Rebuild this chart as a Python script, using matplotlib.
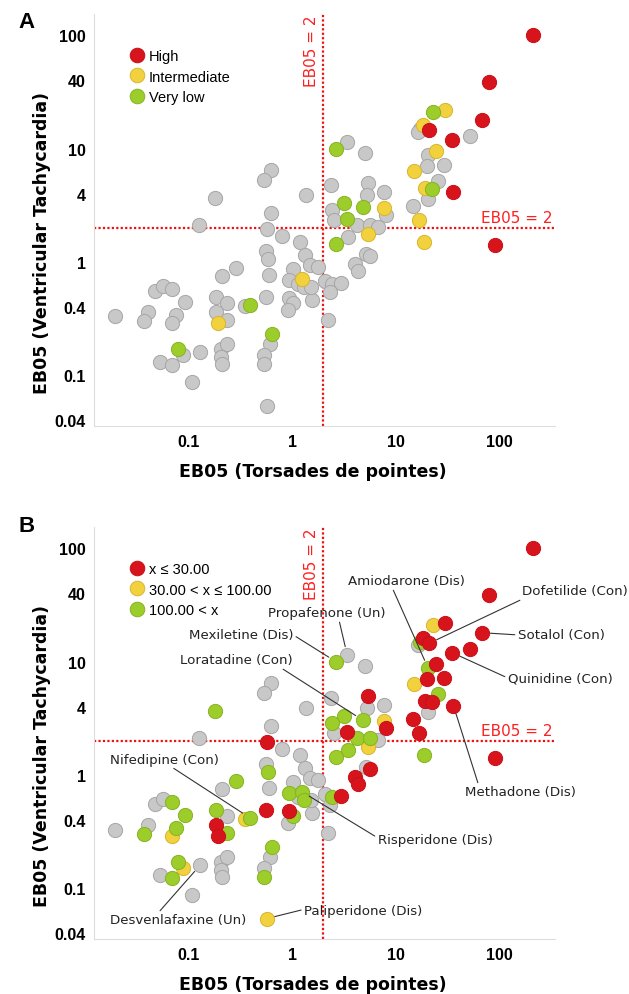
import numpy as np
import matplotlib
matplotlib.use("Agg")
import matplotlib.pyplot as plt
from matplotlib.lines import Line2D

# EB05 values per drug: Torsades de pointes (x) vs Ventricular Tachycardia (y)
tdp = [210, 79, 68, 52, 35, 30, 23, 17, 18.5, 16.5, 21, 24.5, 20.5, 20, 29, 15, 25.6, 19, 22.4, 20.5,
       36, 14.7, 16.8, 18.7, 91, 5.1, 3.4, 2.65, 2.4, 5.4, 5.3, 7.7, 1.36, 3.2, 4.8, 7.7, 2.45, 2.55, 3.4, 8.1,
       4.2, 5.6, 6.7, 5.4, 3.5, 2.65, 5.2, 5.6, 4.05, 4.3, 2.1, 2.45, 2.95, 2.3, 2.2, 1.55, 0.63, 0.54, 0.18, 0.63,
       0.127, 0.57, 0.8, 1.2, 0.56, 0.59, 1.33, 1.5, 1.8, 0.29, 0.21, 0.6, 1.02, 0.94, 1.25, 1.14, 1.3, 1.52, 0.048, 0.057,
       0.07, 0.093, 0.185, 0.235, 0.56, 0.94, 1.02, 0.92, 0.39, 0.35, 0.041, 0.037, 0.076, 0.07, 0.0196, 0.185, 0.195, 0.235, 0.64, 0.61,
       0.54, 0.54, 0.08, 0.089, 0.053, 0.07, 0.13, 0.207, 0.236, 0.207, 0.21, 0.109, 0.57]
vt = [100, 39, 18, 13, 12, 22, 21, 15, 16, 14, 14.5, 9.5, 8.8, 7, 7.2, 6.4, 5.2, 4.5, 4.4, 3.6,
      4.1, 3.1, 2.35, 1.5, 1.4, 9.2, 11.5, 10, 4.8, 5.0, 3.9, 4.15, 3.9, 3.3, 3.05, 3.0, 2.9, 2.35, 2.4, 2.6,
      2.1, 2.1, 2.05, 1.75, 1.65, 1.45, 1.18, 1.12, 0.96, 0.83, 0.68, 0.64, 0.65, 0.54, 0.31, 0.46, 6.5, 5.3, 3.7, 2.7,
      2.1, 1.95, 1.7, 1.5, 1.25, 1.06, 1.15, 0.94, 0.9, 0.88, 0.75, 0.77, 0.87, 0.69, 0.71, 0.64, 0.6, 0.6, 0.55, 0.61,
      0.58, 0.44, 0.49, 0.43, 0.49, 0.48, 0.43, 0.38, 0.42, 0.41, 0.36, 0.30, 0.34, 0.29, 0.33, 0.36, 0.29, 0.31, 0.23, 0.19,
      0.15, 0.126, 0.17, 0.15, 0.13, 0.123, 0.16, 0.17, 0.19, 0.145, 0.126, 0.087, 0.054]

# category per drug, 10 per chunk: R/Y/G coloured, N = grey
# panel A: risk class
cat_a = "".join(["RRRNRYGNYN", "RYNNNYNYGN", "RNYYRNNGNN", "NNNGGYNNGN", "NNNYNGNNNN",
                 "NNNNNNNNNN", "NNNNNNNNNN", "NNNNYNNNNN", "NNNNNNNNGN", "NNNNNNYNGN",
                 "NNGNNNNNNN", "NNN"])
# panel B: threshold class
cat_b = "".join(["RRRRRRYGRN", "RRGRRYGRRN", "RRRGRNNGNR", "NNNGGYGNRR", "GGNYGGNRRR",
                 "NGRNNNNNGN", "NRNNNGNNNG", "NNNGGNGNNN", "GGGNRRGNGY", "NGGYNRRGGN",
                 "NGGYNGNNNN", "NNY"])

labels_a = {"R": "High", "Y": "Intermediate", "G": "Very low"}
labels_b = {"R": "x \u2264 30.00", "Y": "30.00 < x \u2264 100.00", "G": "100.00 < x"}

# annotated drugs in panel B: (label, point index, label x, label y, relpos)
notes = [
    ("Amiodarone (Dis)", 12, 12.6, 51.5, (0.38, 0.0)),
    ("Dofetilide (Con)", 10, 536, 42, (0.06, 0.1)),
    ("Sotalol (Con)", 2, 393, 17.2, (0.0, 0.5)),
    ("Quinidine (Con)", 4, 384, 7.18, (0.0, 0.5)),
    ("Methadone (Dis)", 20, 161, 0.708, (0.12, 1.0)),
    ("Risperidone (Dis)", 74, 23.9, 0.272, (0.0, 0.6)),
    ("Paliperidone (Dis)", 112, 4.84, 0.0643, (0.0, 0.55)),
    ("Desvenlafaxine (Un)", 106, 0.0796, 0.0525, (0.35, 1.0)),
    ("Nifedipine (Con)", 88, 0.0583, 1.38, (0.55, 0.0)),
    ("Loratadine (Con)", 34, 0.288, 10.35, (0.88, 0.0)),
    ("Mexiletine (Dis)", 27, 0.322, 17.2, (1.0, 0.5)),
    ("Propafenone (Un)", 26, 2.18, 26.9, (0.6, 0.0)),
]

face = {"N": "#c8c8c8", "R": "#d7131b", "Y": "#f2d13f", "G": "#9ccd2a"}
edge = {"N": "#a6a6a6", "R": "#c8101a", "Y": "#d9b52e", "G": "#86b322"}

tdp = np.array(tdp)
vt = np.array(vt)

plt.rcParams['font.family'] = ['DejaVu Sans']
fig = plt.figure(figsize=(6.29, 9.95), dpi=100)
ax_a = fig.add_axes([0.1494, 0.5709, 0.733, 0.414])
ax_b = fig.add_axes([0.1494, 0.0553, 0.733, 0.414])


def draw_panel(ax, cats, labels):
    cats = np.array(list(cats))
    for c in ["N", "Y", "G", "R"]:
        m = cats == c
        ax.scatter(tdp[m], vt[m], s=105, c=face[c], edgecolors=edge[c], linewidths=0.7, zorder=3)
    ax.set_xscale("log")
    ax.set_yscale("log")
    ax.set_xlim(0.0123, 344)
    ax.set_ylim(0.0357, 154)
    ax.set_xticks([0.1, 1, 10, 100])
    ax.set_xticklabels(["0.1", "1", "10", "100"])
    ax.set_yticks([0.04, 0.1, 0.4, 1, 4, 10, 40, 100])
    ax.set_yticklabels(["0.04", "0.1", "0.4", "1", "4", "10", "40", "100"])
    ax.minorticks_off()
    ax.tick_params(length=0, pad=6)
    for lab in ax.get_xticklabels() + ax.get_yticklabels():
        lab.set_fontfamily("Liberation Sans")
        lab.set_fontweight("bold")
        lab.set_fontsize(11.5)
    for s in ["top", "right"]:
        ax.spines[s].set_visible(False)
    for s in ["left", "bottom"]:
        ax.spines[s].set_color("#dddddd")
    ax.axvline(2, color="#ee1111", ls=(0, (1, 1)), lw=1.6, zorder=2)
    ax.axhline(2, color="#ee1111", ls=(0, (1, 1)), lw=1.6, zorder=2)
    ax.text(1.83, 1.0, "EB05 = 2", transform=ax.get_xaxis_transform(), rotation=90,
            ha="right", va="top", color="#ff2020", fontsize=11)
    ax.text(0.995, 2.12, "EB05 = 2", transform=ax.get_yaxis_transform(),
            ha="right", va="bottom", color="#ff2020", fontsize=11)
    ax.text(0.4745, -0.109, "EB05 (Torsades de pointes)", transform=ax.transAxes,
            ha="center", va="center", fontsize=12.5, fontweight="bold")
    ax.text(-0.113, 0.447, "EB05 (Ventricular Tachycardia)", transform=ax.transAxes,
            rotation=90, ha="center", va="center", fontsize=12.5, fontweight="bold")
    handles = [Line2D([], [], ls="", marker="o", markersize=10.5, markerfacecolor=face[c],
                      markeredgecolor=edge[c], markeredgewidth=0.7) for c in ["R", "Y", "G"]]
    ax.legend(handles, [labels[c] for c in ["R", "Y", "G"]], loc="upper left",
              bbox_to_anchor=(0.062, 0.93), frameon=False, handletextpad=0.22,
              labelspacing=0.47, borderaxespad=0, handlelength=1.2,
              prop={"family": "Liberation Sans", "size": 10.5})


draw_panel(ax_a, cat_a, labels_a)
draw_panel(ax_b, cat_b, labels_b)

for text, i, lx, ly, rp in notes:
    ax_b.annotate(text, xy=(tdp[i], vt[i]), xytext=(lx, ly), ha="center", va="center",
                  fontsize=9.6, color="#222222", annotation_clip=False, zorder=4,
                  arrowprops=dict(arrowstyle="-", color="#333333", lw=0.8, relpos=rp,
                                  shrinkA=0, shrinkB=6))

fig.text(18 / 629, 1 - 22 / 995, "A", fontsize=16, fontweight="bold", family="Liberation Sans",
         ha="left", va="center")
fig.text(18 / 629, 1 - 527 / 995, "B", fontsize=16, fontweight="bold", family="Liberation Sans",
         ha="left", va="center")

fig.savefig("out.png", dpi=100)
